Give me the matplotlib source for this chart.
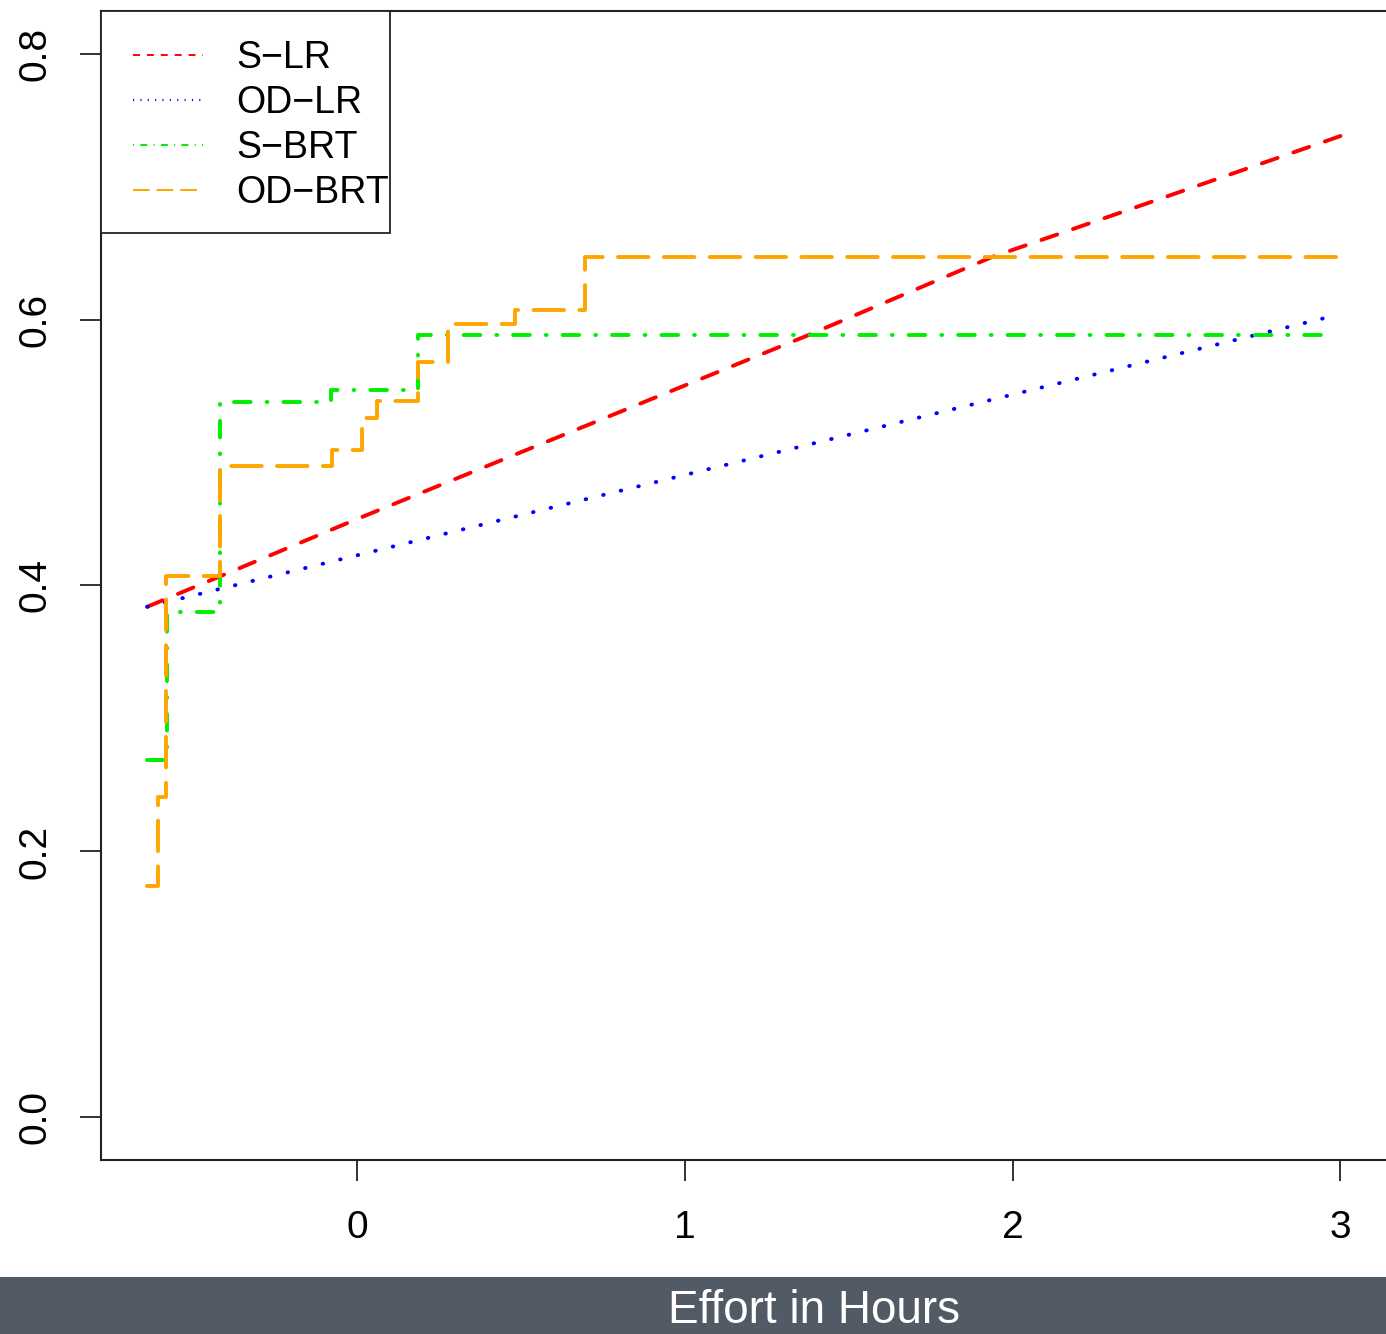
import numpy as np
import matplotlib
matplotlib.use("Agg")
import matplotlib.pyplot as plt
from matplotlib.lines import Line2D
from matplotlib.patches import Rectangle

plt.rcParams['font.family'] = ['Liberation Sans', 'DejaVu Sans']
plt.rcParams['lines.scale_dashes'] = False

# values
slr_x = [-0.64, 0.0, 1.374, 1.937, 2.324, 3.0]
slr_y = [0.384, 0.450, 0.588, 0.647, 0.680, 0.738]

odlr_x = [-0.64, 2.95]
odlr_y = [0.384, 0.601]

sbrt_x = [-0.64, -0.579, -0.417, -0.08, 0.186, 2.95]
sbrt_y = [0.269, 0.380, 0.538, 0.547, 0.588, 0.588]

odbrt_x = [-0.64, -0.606, -0.582, -0.417, -0.076, 0.015, 0.061, 0.186, 0.277, 0.481, 0.694, 3.0]
odbrt_y = [0.174, 0.241, 0.407, 0.490, 0.502, 0.526, 0.539, 0.568, 0.597, 0.607, 0.647, 0.647]

labels = ['S\u2212LR', 'OD\u2212LR', 'S\u2212BRT', 'OD\u2212BRT']
colors = ['#ff0000', '#0000ff', '#00ee00', '#ffa500']
xticks = [0, 1, 2, 3]
yticks = [0.0, 0.2, 0.4, 0.6, 0.8]

W, H = 1386, 1334
fig = plt.figure(figsize=(W / 100, H / 100), dpi=100)
ax = fig.add_axes([101 / W, (H - 1160) / H, (1390 - 101) / W, (1160 - 11) / H])

lw = 2.8
ax.plot(slr_x, slr_y, color=colors[0], lw=lw, dashes=(12, 12), dash_capstyle='round')
ax.plot(odlr_x, odlr_y, color=colors[1], lw=lw, dashes=(0.4, 12.6), dash_capstyle='round')
ax.step(sbrt_x, sbrt_y, where='post', color=colors[2], lw=lw,
        dashes=(12, 11.5, 0.6, 11.5), dash_capstyle='round')
ax.step(odbrt_x, odbrt_y, where='post', color=colors[3], lw=lw,
        dashes=(22, 11), dash_capstyle='round')

ax.set_xlim(-0.781, 3.151)
ax.set_ylim(-0.032, 0.832)
ax.set_xticks(xticks)
ax.set_xticklabels([str(v) for v in xticks])
ax.set_yticks(yticks)
ax.set_yticklabels(['%.1f' % v for v in yticks], rotation=90, va='center')
ax.tick_params(axis='both', direction='out', length=15, width=1.3, labelsize=28,
               color='#222222')
ax.tick_params(axis='x', pad=21)
ax.tick_params(axis='y', pad=19)
for s in ax.spines.values():
    s.set_linewidth(1.5)
    s.set_color('#222222')

# legend: frame drawn by hand, entries by matplotlib
frame = Rectangle((101 / W, (H - 233) / H), (390 - 101) / W, (233 - 11) / H,
                  transform=fig.transFigure, facecolor='white', edgecolor='#222222',
                  linewidth=1.3, zorder=4.9, clip_on=False)
ax.add_patch(frame)

handles = [
    Line2D([], [], color=colors[0], lw=1.4, dashes=(5, 5)),
    Line2D([], [], color=colors[1], lw=1.6, dashes=(0.8, 4.5)),
    Line2D([], [], color=colors[2], lw=1.4, dashes=(0.8, 4.5, 5, 4.5)),
    Line2D([], [], color=colors[3], lw=1.4, dashes=(12, 5)),
]
leg = ax.legend(handles, labels, loc='upper left',
                bbox_to_anchor=(104 / W, (H - 11) / H), bbox_transform=fig.transFigure,
                borderaxespad=0, fontsize=27, frameon=False,
                handlelength=1.87, handletextpad=0.88, labelspacing=0.24,
                borderpad=0.77)
leg.set_zorder(5)

# caption band at the bottom
fig.patches.append(Rectangle((0, 0), 1, (H - 1277) / H, transform=fig.transFigure,
                             facecolor='#525b65', edgecolor='none', zorder=0))
fig.text(814 / W, 1 / H, 'Effort in Hours', color='white', fontsize=33,
         ha='center', va='bottom')

fig.savefig('out.png', dpi=100)
